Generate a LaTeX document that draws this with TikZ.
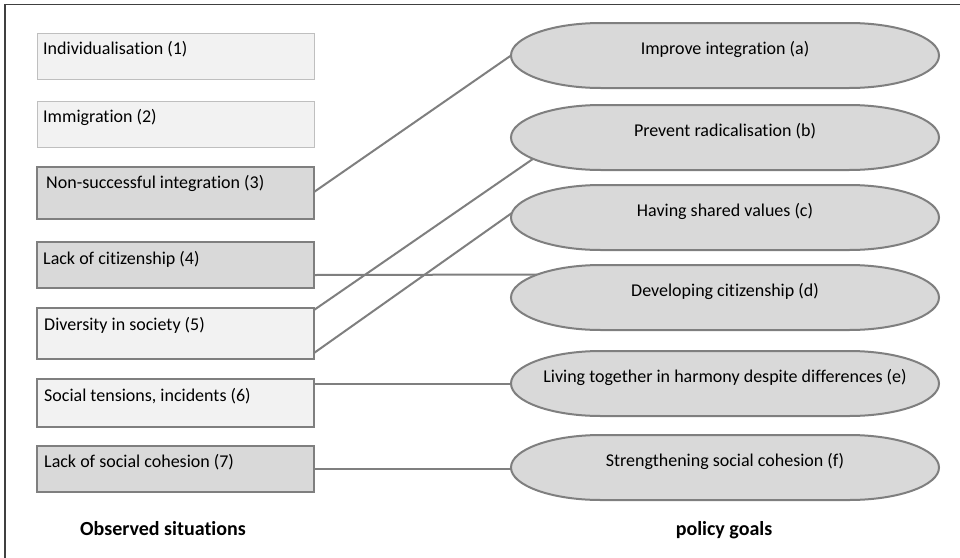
\documentclass[tikz,border=0pt]{standalone}
\usepackage{fontspec}
\setmainfont{Carlito}[Ligatures={NoCommon}]
\definecolor{lightfill}{HTML}{F2F2F2}
\definecolor{darkfill}{HTML}{D9D9D9}
\definecolor{lightedge}{HTML}{BFBFBF}
\definecolor{darkedge}{HTML}{7F7F7F}
\definecolor{frameedge}{HTML}{404040}
\tikzset{
  sitlight/.style={draw=lightedge, fill=lightfill, line width=1pt, rectangle, minimum width=277pt, anchor=north west, inner sep=0pt, outer sep=0pt},
  sitmid/.style={draw=darkedge, fill=lightfill, line width=2.4pt, rectangle, minimum width=277pt, anchor=north west, inner sep=0pt, outer sep=0pt},
  sitdark/.style={draw=darkedge, fill=darkfill, line width=2.4pt, rectangle, minimum width=277pt, anchor=north west, inner sep=0pt, outer sep=0pt},
  goalbox/.style={rectangle, minimum width=428pt, minimum height=65pt, inner sep=0pt, outer sep=0pt},
  goalsty/.style={draw=darkedge, fill=darkfill, line width=2pt},
  lbl/.style={inner sep=0pt, font=\fontsize{18}{21}\selectfont, text=black},
  head/.style={inner sep=0pt, font=\fontsize{20}{24}\selectfont\bfseries, text=black},
  conn/.style={draw=darkedge, line width=2pt},
}
\newcommand\goalshape[1]{%
  \draw[goalsty] ([xshift=90pt]#1.north west) -- ([xshift=-90pt]#1.north east)
    arc[start angle=90, end angle=-90, x radius=90pt, y radius=32.5pt]
    -- ([xshift=90pt]#1.south west)
    arc[start angle=270, end angle=90, x radius=90pt, y radius=32.5pt] -- cycle;}
\begin{document}
\begin{tikzpicture}[x=1pt, y=-1pt]
\useasboundingbox (0,0) rectangle (960,557);
% frame (cropped on right and bottom)
\draw[frameedge, line width=1.5pt] (5,560) -- (5,4.5) -- (965,4.5);

% observed situations
\node[sitlight, minimum height=46pt] (s1) at (37,33) {};
\node[sitlight, minimum height=46pt] (s2) at (37,101) {};
\node[sitdark,  minimum height=52pt] (s3) at (37,167) {};
\node[sitdark,  minimum height=46pt] (s4) at (37,242) {};
\node[sitmid,   minimum height=51pt] (s5) at (37,308) {};
\node[sitmid,   minimum height=48pt] (s6) at (37,379) {};
\node[sitdark,  minimum height=46pt] (s7) at (37,446) {};

\node[lbl, anchor=base west] (t1) at ([xshift=6pt, yshift=-21pt]s1.north west) {Individualisation (1)};
\node[lbl, anchor=base west] (t2) at ([xshift=6pt, yshift=-21pt]s2.north west) {Immigration (2)};
\node[lbl, anchor=base west] (t3) at ([xshift=9pt, yshift=-21pt]s3.north west) {Non-successful integration (3)};
\node[lbl, anchor=base west] (t4) at ([xshift=6pt, yshift=-22pt]s4.north west) {Lack of citizenship (4)};
\node[lbl, anchor=base west] (t5) at ([xshift=7pt, yshift=-22pt]s5.north west) {Diversity in society (5)};
\node[lbl, anchor=base west] (t6) at ([xshift=7pt, yshift=-22pt]s6.north west) {Social tensions, incidents (6)};
\node[lbl, anchor=base west] (t7) at ([xshift=7pt, yshift=-21pt]s7.north west) {Lack of social cohesion (7)};

% policy goals (frames)
\node[goalbox] (ga) at (725,55.5) {};
\node[goalbox] (gb) at (725,137.5) {};
\node[goalbox] (gc) at (725,217.5) {};
\node[goalbox] (gd) at (725,297.5) {};
\node[goalbox] (ge) at (725,383.5) {};
\node[goalbox] (gf) at (725,467.5) {};

% attachment points
\path ([xshift=90pt]gb.west) ++(221:90pt and 32.5pt) coordinate (gbin);
\path ([xshift=90pt]gc.west) ++(172:90pt and 32.5pt) coordinate (gcin);
\path ([xshift=90pt]gd.west) ++(135:90pt and 32.5pt) coordinate (gdin);
\coordinate (s3out) at ([yshift=1pt]s3.east);
\coordinate (s4out) at ([yshift=-10pt]s4.east);
\coordinate (s5outa) at ([yshift=-2pt]s5.north east);
\coordinate (s5outb) at ([yshift=6pt]s5.south east);
\coordinate (s6out) at ([yshift=-5pt]s6.north east);
\coordinate (s7out) at ([yshift=0pt]s7.east);

% connectors
\draw[conn] (s3out) -- (ga.west);
\draw[conn] (s4out) -- (gdin);
\draw[conn] (s5outa) -- (gbin);
\draw[conn] (s5outb) -- (gcin);
\draw[conn] (s6out) -- (s6out -| ge.west);
\draw[conn] (s7out) -- (s7out -| gf.west);

% goal shapes
\goalshape{ga}
\goalshape{gb}
\goalshape{gc}
\goalshape{gd}
\goalshape{ge}
\goalshape{gf}

\node[lbl, anchor=base] (la) at ([yshift=1pt]ga.center) {Improve integration (a)};
\node[lbl, anchor=base] (lb) at ([yshift=1pt]gb.center) {Prevent radicalisation (b)};
\node[lbl, anchor=base] (lc) at ([yshift=1pt]gc.center) {Having shared values (c)};
\node[lbl, anchor=base] (ld) at ([yshift=1pt]gd.center) {Developing citizenship (d)};
\node[lbl, anchor=base] (le) at ([yshift=1pt]ge.center) {Living together in harmony despite differences (e)};
\node[lbl, anchor=base] (lf) at ([yshift=1pt]gf.center) {Strengthening social cohesion (f)};

% column headings
\node[head, anchor=base] (hobs) at (163,535) {Observed situations};
\node[head, anchor=base] (hpol) at (724,535) {policy goals};
\end{tikzpicture}
\end{document}
